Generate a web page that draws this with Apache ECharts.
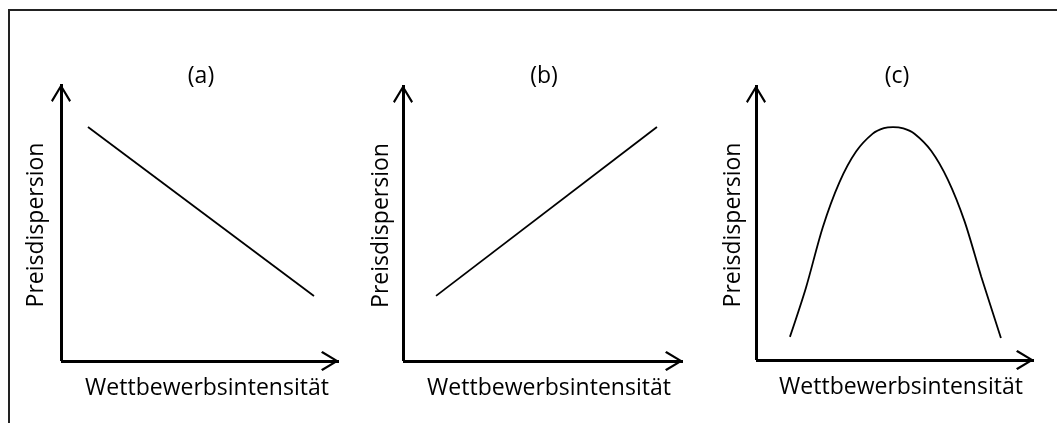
<!DOCTYPE html>
<html><head><meta charset="utf-8">
<script src="https://cdn.jsdelivr.net/npm/echarts@6/dist/echarts.min.js"></script>
<style>html,body{margin:0;padding:0;background:#fff}#c{width:1057px;height:423px}</style>
</head><body><div id="c"></div>
<script>
// ---- data ----
const panelTitles = ['(a)', '(b)', '(c)'];
const xAxisName = 'Wettbewerbsintensität';
const yAxisName = 'Preisdispersion';
const seriesA = [[9.7, 84.5], [91.0, 23.5]];
const seriesB = [[11.8, 23.6], [90.7, 84.8]];
const seriesC = [[12.2, 8.4], [18, 26.4], [24, 48.2], [30, 64.6], [36, 75.8], [42, 82.3], [46, 84.3],
                 [49.3, 84.7], [53, 84.2], [57, 82.3], [63, 76.1], [69, 65.6], [75, 50.5], [81, 30.4], [88.1, 8.0]];
const panelData = [seriesA, seriesB, seriesC];

// ---- layout / style ----
const FONT = 'Open Sans';
const FS = 23;
const grids = [
  {left: 61, top: 84, width: 278, height: 277},
  {left: 403, top: 85, width: 280, height: 276},
  {left: 756, top: 85, width: 278, height: 275}
];
const titleCenters = [[201, 76], [544, 76], [897, 76]];
const xNameShift = [14, 12, 12];
const yNameGap = [13, 10, 11];
const arrow = 'path://M10,0 L20,16.5 L18.3,18 L10,4 L1.7,18 L0,16.5 Z';

function axisLine() {
  return {
    show: true, onZero: false,
    lineStyle: {color: '#000', width: 3, cap: 'butt'},
    symbol: ['none', arrow], symbolSize: [20, 18], symbolOffset: [0, -9]
  };
}

const option = {
  backgroundColor: '#fff',
  animation: false,
  title: panelTitles.map((t, i) => ({
    text: t, left: titleCenters[i][0], top: titleCenters[i][1],
    textAlign: 'center', textVerticalAlign: 'middle', padding: 0,
    textStyle: {fontFamily: FONT, fontSize: FS, fontWeight: 'normal', color: '#000'}
  })),
  grid: grids.map(g => Object.assign({outerBoundsMode: 'none', containLabel: false}, g)),
  xAxis: grids.map((g, i) => ({
    type: 'value', gridIndex: i, min: 0, max: 100,
    axisLine: axisLine(), axisTick: {show: false}, axisLabel: {show: false}, splitLine: {show: false},
    name: xAxisName, nameLocation: 'middle', nameGap: 16,
    nameTextStyle: {fontFamily: FONT, fontSize: FS, color: '#000', padding: [0, 0, 0, xNameShift[i]]}
  })),
  yAxis: grids.map((g, i) => ({
    type: 'value', gridIndex: i, min: 0, max: 100,
    axisLine: axisLine(), axisTick: {show: false}, axisLabel: {show: false}, splitLine: {show: false},
    name: yAxisName, nameLocation: 'middle', nameRotate: 90, nameGap: yNameGap[i],
    nameTextStyle: {fontFamily: FONT, fontSize: FS, color: '#000', padding: [0, 5, 0, 0]}
  })),
  series: panelData.map((d, i) => ({
    type: 'line', xAxisIndex: i, yAxisIndex: i, data: d,
    showSymbol: false, smooth: i === 2 ? 0.3 : false,
    lineStyle: {color: '#000', width: 1.8}
  })),
  graphic: [{
    type: 'polyline', silent: true,
    shape: {points: [[9, 423], [9, 10], [1057, 10]]},
    style: {stroke: '#222', lineWidth: 2, fill: null}
  }]
};

echarts.init(document.getElementById('c'), null, {renderer: 'canvas'}).setOption(option);
</script>
</body></html>
